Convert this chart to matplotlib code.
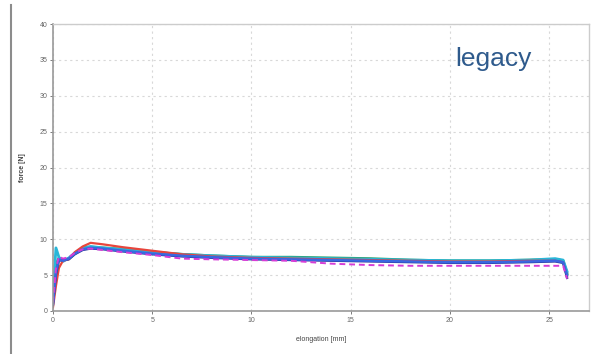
import matplotlib
matplotlib.use("Agg")
import matplotlib.pyplot as plt
from matplotlib.lines import Line2D

plt.rcParams["font.family"] = ["Liberation Sans", "DejaVu Sans"]

# elongation [mm] sample points shared by all curves
elong = [0, 0.15, 0.3, 0.5, 0.8, 1.1, 1.5, 1.9, 2.5, 3.5, 5, 6.5, 8, 10,
         12, 14, 16, 18, 20, 22, 24, 25.3, 25.7, 25.9]

# force [N] per specimen
red = [0.5, 3.5, 6.0, 7.0, 7.2, 8.2, 9.0, 9.5, 9.3, 8.9, 8.4, 7.9, 7.6, 7.4,
       7.3, 7.2, 7.1, 7.0, 6.9, 6.9, 7.0, 7.0, 6.8, 4.8]
blue = [1.0, 5.5, 7.2, 7.0, 7.3, 8.0, 8.6, 8.8, 8.7, 8.4, 8.0, 7.7, 7.5, 7.3,
        7.2, 7.1, 7.0, 6.9, 6.8, 6.8, 6.9, 7.0, 6.8, 5.0]
cyan = [2.0, 8.8, 7.5, 6.9, 7.4, 8.1, 8.8, 9.0, 8.8, 8.6, 8.2, 7.9, 7.7, 7.5,
        7.4, 7.3, 7.2, 7.1, 7.0, 7.0, 7.1, 7.3, 7.1, 5.5]
green = [1.5, 6.5, 7.4, 7.1, 7.3, 8.0, 8.7, 8.9, 8.8, 8.6, 8.2, 7.9, 7.7, 7.5,
         7.5, 7.4, 7.3, 7.1, 7.0, 7.0, 7.1, 7.2, 7.0, 5.2]
navy = [0.8, 5.0, 7.0, 7.1, 7.2, 7.9, 8.5, 8.7, 8.6, 8.3, 7.9, 7.6, 7.4, 7.2,
        7.1, 7.0, 6.9, 6.8, 6.7, 6.7, 6.8, 6.9, 6.7, 4.6]
magenta = [1.2, 6.0, 7.6, 7.3, 7.5, 8.1, 8.6, 8.7, 8.5, 8.2, 7.8, 7.3, 7.2, 7.1,
           7.0, 6.6, 6.4, 6.3, 6.3, 6.3, 6.3, 6.3, 6.3, 4.5]

xticks = [0, 5, 10, 15, 20, 25]
yticks = [0, 5, 10, 15, 20, 25, 30, 35, 40]

fig = plt.figure(figsize=(6.04, 3.54), dpi=100)
fig.patch.set_facecolor("white")
ax = fig.add_axes([0.0877, 0.1215, 0.8873, 0.8105])

ax.plot(elong, green, color="#2ca06a", lw=2)
ax.plot(elong, cyan, color="#29b6d8", lw=2)
ax.plot(elong, red, color="#e8453c", lw=1.6)
ax.plot(elong, navy, color="#2b3a9a", lw=1.6)
ax.plot(elong, blue, color="#3a66e0", lw=1.8)
ax.plot(elong, magenta, color="#d63cd6", lw=1.4, ls=(0, (3, 2)))

ax.set_xlim(0, 27)
ax.set_ylim(0, 40)
ax.set_xticks(xticks)
ax.set_yticks(yticks)
ax.grid(True, color="#d8d8d8", ls=(0, (2, 3)), lw=0.8)
ax.tick_params(labelsize=5, colors="#666666", length=2, width=0.6, pad=2)

for s in ["left", "bottom"]:
    ax.spines[s].set_color("#999999")
    ax.spines[s].set_linewidth(1.2)
for s in ["top", "right"]:
    ax.spines[s].set_color("#cccccc")
    ax.spines[s].set_linewidth(1.0)

ax.set_xlabel("elongation [mm]", fontsize=5, color="#444444", labelpad=9)
ax.set_ylabel("force [N]", fontsize=5, color="#444444", fontweight="bold", labelpad=10)

ax.text(0.821, 0.88, "legacy", transform=ax.transAxes, fontsize=19,
        color="#2e5a8c", ha="center", va="center")

# grey vertical bar at the far left of the image
fig.add_artist(Line2D([11 / 604, 11 / 604], [0, 1 - 5 / 354],
                      transform=fig.transFigure, color="#8c8c8c", lw=1.5))

fig.savefig("out.png", dpi=100)
